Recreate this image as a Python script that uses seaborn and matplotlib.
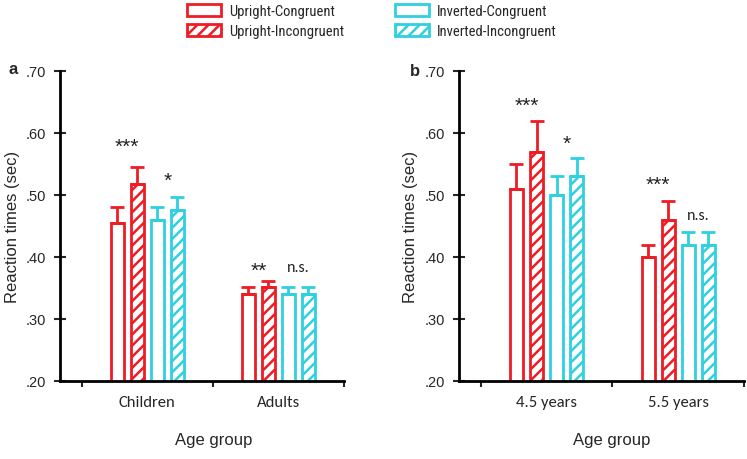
import matplotlib
matplotlib.use("Agg")
import matplotlib.pyplot as plt
from matplotlib import font_manager as fm
import numpy as np
import pandas as pd
import seaborn as sns
from matplotlib.patches import Patch

# ---------------- data ----------------
conditions = ["Upright-Congruent", "Upright-Incongruent",
              "Inverted-Congruent", "Inverted-Incongruent"]

groups_a = ["Children", "Adults"]
uc_a = [0.455, 0.341]
ui_a = [0.518, 0.351]
ic_a = [0.460, 0.341]
ii_a = [0.476, 0.341]
uc_a_err = [0.026, 0.010]
ui_a_err = [0.027, 0.010]
ic_a_err = [0.021, 0.010]
ii_a_err = [0.021, 0.010]

groups_b = ["4.5 years", "5.5 years"]
uc_b = [0.510, 0.400]
ui_b = [0.570, 0.460]
ic_b = [0.500, 0.420]
ii_b = [0.530, 0.420]
uc_b_err = [0.040, 0.020]
ui_b_err = [0.050, 0.030]
ic_b_err = [0.030, 0.020]
ii_b_err = [0.030, 0.020]

# significance labels: (group index, pair: 0 upright / 1 inverted, text, y)
sig_a = [(0, 0, "***", 0.585), (0, 1, "*", 0.529), (1, 0, "**", 0.384), (1, 1, "n.s.", 0.384)]
sig_b = [(0, 0, "***", 0.650), (0, 1, "*", 0.590), (1, 0, "***", 0.523), (1, 1, "n.s.", 0.468)]

yticks = [0.20, 0.30, 0.40, 0.50, 0.60, 0.70]
ytick_labels = [".20", ".30", ".40", ".50", ".60", ".70"]

# ---------------- fonts ----------------
available = set(f.name for f in fm.fontManager.ttflist)


def pick(cands):
    for c in cands:
        if c in available:
            return [c, "DejaVu Sans"]
    return ["DejaVu Sans"]


SANS = pick(["Liberation Sans", "Arimo"])
CALIBRI = pick(["Carlito", "Calibri", "Lato"])
NARROW = pick(["Liberation Sans Narrow", "Arial Narrow", "Arimo Narrow", "Roboto Condensed",
               "PT Sans Narrow", "Archivo Narrow", "Liberation Sans"])

# ---------------- style ----------------
sns.set_style("ticks")
plt.rcParams["font.family"] = SANS
plt.rcParams["hatch.linewidth"] = 1.8

RED = "#ee1c25"
CYAN = "#2fd0df"
palette = {conditions[0]: RED, conditions[1]: RED, conditions[2]: CYAN, conditions[3]: CYAN}
hatches = {conditions[0]: "", conditions[1]: "///", conditions[2]: "", conditions[3]: "///"}


def make_df(groups, series, errs):
    rows = []
    for cond, vals, es in zip(conditions, series, errs):
        for g, v, e in zip(groups, vals, es):
            rows.append({"group": g, "cond": cond, "rt": v, "err": e})
    return pd.DataFrame(rows)


df_a = make_df(groups_a, [uc_a, ui_a, ic_a, ii_a], [uc_a_err, ui_a_err, ic_a_err, ii_a_err])
df_b = make_df(groups_b, [uc_b, ui_b, ic_b, ii_b], [uc_b_err, ui_b_err, ic_b_err, ii_b_err])

fig = plt.figure(figsize=(7.47, 4.60), dpi=100)
ax_a = fig.add_axes([60 / 747, 1 - 382 / 460, 284 / 747, 310 / 460])
ax_b = fig.add_axes([459 / 747, 1 - 382 / 460, 285 / 747, 310 / 460])


def draw_panel(ax, df, groups, sig, letter, letter_xy):
    sns.barplot(data=df, x="group", y="rt", hue="cond", hue_order=conditions,
                order=groups, palette=palette, fill=False, errorbar=None,
                width=0.61, gap=0.35, linewidth=2, legend=False, ax=ax)
    centers = {}
    for cond, cont in zip(conditions, ax.containers):
        sub = df[df["cond"] == cond].set_index("group").loc[groups]
        xs, tops = [], []
        for bar in cont:
            bar.set_hatch(hatches[cond])
            bar.set_edgecolor(palette[cond])
            bar.set_facecolor("none")
            bar.set_linewidth(2)
            xs.append(bar.get_x() + bar.get_width() / 2)
            tops.append(bar.get_height())
        centers[cond] = xs
        ax.errorbar(xs, tops, yerr=[np.zeros(len(xs)), sub["err"].values],
                    fmt="none", ecolor=palette[cond], elinewidth=2,
                    capsize=5, capthick=2, zorder=3)
    for gi, pair, txt, y in sig:
        c1 = conditions[2 * pair]
        c2 = conditions[2 * pair + 1]
        x = (centers[c1][gi] + centers[c2][gi]) / 2
        if txt == "n.s.":
            ax.text(x, y, txt, ha="center", va="center", fontsize=11.5,
                    family=CALIBRI, color="#222222")
        else:
            ax.text(x, y - 0.006, txt, ha="center", va="center", fontsize=15, color="#222222")

    ax.set_ylim(0.2, 0.7)
    ax.set_xlim(-0.665, 1.5)
    ax.set_yticks(yticks)
    ax.set_yticklabels(ytick_labels, fontsize=10.5)
    ax.set_xticks([0, 1])
    ax.set_xticklabels(groups, fontsize=12, family=CALIBRI)
    ax.set_xticks([-0.5, 0.5, 1.5], minor=True)
    ax.tick_params(axis="x", which="major", length=0, pad=10)
    ax.tick_params(axis="x", which="minor", length=4, width=1.5, direction="out")
    ax.tick_params(axis="y", which="major", length=8, width=1.5, direction="inout", pad=6)
    for s in ["top", "right"]:
        ax.spines[s].set_visible(False)
    for s in ["left", "bottom"]:
        ax.spines[s].set_linewidth(2)
        ax.spines[s].set_color("black")
    ax.set_xlabel("")
    ax.set_ylabel("Reaction times (sec)", fontsize=12)
    fig.text(letter_xy[0] / 747, 1 - letter_xy[1] / 460, letter, fontsize=12,
             fontweight="bold", ha="center", va="center")


draw_panel(ax_a, df_a, groups_a, sig_a, "a", (13, 69))
draw_panel(ax_b, df_b, groups_b, sig_b, "b", (415, 72))
ax_a.yaxis.set_label_coords(-0.141, 0.5)
ax_b.yaxis.set_label_coords(-0.144, 0.5)

fig.text(214 / 747, 1 - 441 / 460, "Age group", fontsize=12, ha="center", va="center")
fig.text(612 / 747, 1 - 441 / 460, "Age group", fontsize=12, ha="center", va="center")

handles = [Patch(facecolor="none", edgecolor=palette[c], hatch=hatches[c],
                 linewidth=2, label=c) for c in conditions]
fig.legend(handles=handles, loc="center", bbox_to_anchor=(372 / 747, 1 - 22 / 460), ncol=2,
           frameon=False, prop={"family": NARROW, "size": 10.5}, handlelength=2.3,
           handleheight=0.95, handletextpad=0.55, columnspacing=3.5, labelspacing=0.4,
           borderaxespad=0)

fig.savefig("out.png", dpi=100)
